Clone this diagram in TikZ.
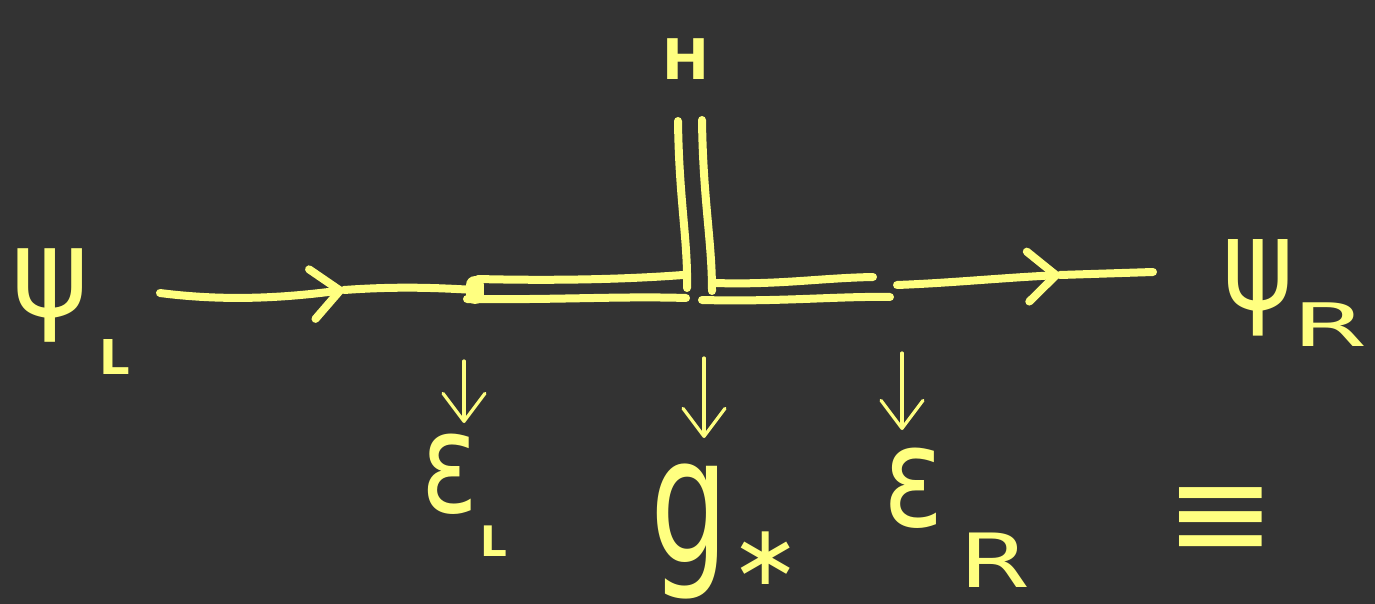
\documentclass[tikz,border=0pt]{standalone}
\usepackage{fontspec}
\setmainfont{DejaVu Sans}
\usetikzlibrary{arrows.meta}
\definecolor{bg}{RGB}{51,51,51}
\definecolor{chalk}{RGB}{255,255,128}
\begin{document}
\begin{tikzpicture}[x=0.5pt,y=-0.5pt,
  wire/.style={draw=chalk,line width=4pt,line cap=round,line join=round},
  fine/.style={draw=chalk,line width=1.6pt,line cap=round,line join=round},
  lbl/.style={text=chalk,inner sep=0pt,anchor=center},
  bigtip/.style={-{Straight Barb[round,length=14pt,width=25pt]}},
  smalltip/.style={-{Straight Barb[round,length=14pt,width=21pt]}}]
\fill[bg] (0,0) rectangle (1375,604);
\useasboundingbox (0,0) rectangle (1375,604);
% labels
\node[lbl,font=\bfseries\fontsize{28}{28}\selectfont] (H) at (686,59) {H};
\node[lbl,font=\fontsize{62}{62}\selectfont] (psiL) at (50,295) {\scalebox{0.95}[1]{ψ}};
\node[lbl,font=\bfseries\fontsize{24}{24}\selectfont] (subL) at (115,357) {L};
\node[lbl,font=\fontsize{64}{64}\selectfont] (psiR) at (1258,288) {\scalebox{0.85}[1]{ψ}};
\node[lbl,font=\fontsize{30}{30}\selectfont] (subR) at (1330,325) {\scalebox{1.8}[1]{R}};
\node[lbl,font=\fontsize{70}{70}\selectfont] (epsL) at (450,474) {\scalebox{0.75}[1]{ε}};
\node[lbl,font=\bfseries\fontsize{21}{21}\selectfont] (epsLsub) at (494,541) {L};
\node[lbl,font=\fontsize{88}{88}\selectfont] (g) at (690,532) {\scalebox{0.7}[1]{g}};
\node[lbl,font=\fontsize{42}{42}\selectfont] (gstar) at (766,558) {∗};
\node[lbl,font=\fontsize{70}{70}\selectfont] (epsR) at (914,488) {\scalebox{0.8}[1]{ε}};
\node[lbl,font=\fontsize{34}{34}\selectfont] (epsRsub) at (995,560) {\scalebox{1.5}[1.1]{R}};
\node[lbl,font=\fontsize{66}{66}\selectfont] (equiv) at (1221,523) {≡};
% coordinates of the wire
\coordinate (wL) at (160,293);
\coordinate (chevL) at (344,290);
\coordinate (blob) at (475,290);
\coordinate (jL) at (687,288);
\coordinate (jR) at (712,291);
\coordinate (wR) at (897,285);
\coordinate (chevR) at (1060,275);
\coordinate (endR) at (1153,272);
\coordinate (vLtop) at (678,121);
\coordinate (vRtop) at (702,120);
\coordinate (aL) at (464,361);
\coordinate (aM) at (704,358);
\coordinate (aR) at (902,353);
% incoming wire
\draw[wire,bigtip] (wL) .. controls (230,302) and (290,297) .. (chevL);
\draw[wire] (chevL) .. controls (400,286) and (440,288) .. (blob);
\draw[chalk,line width=9pt,line cap=round] (475,285) -- (475,295);
% left double line
\draw[wire] (478,279) .. controls (560,281) and (630,279) .. (683,275);
\draw[wire] (467,299) .. controls (560,300) and (620,296) .. (686,298);
% vertical double line to H
\draw[wire] (vLtop) .. controls (679,200) and (688,240) .. (jL);
\draw[wire] (vRtop) .. controls (703,200) and (712,240) .. (jR);
% right double line
\draw[wire] (714,283) .. controls (780,285) and (820,278) .. (873,277);
\draw[wire] (702,300) .. controls (780,302) and (840,296) .. (890,297);
% outgoing wire
\draw[wire,bigtip] (wR) .. controls (950,283) and (1000,278) .. (chevR);
\draw[wire] (chevR) -- (endR);
% small arrows to labels
\draw[fine,smalltip] (aL) -- (464,423);
\draw[fine,smalltip] (aM) -- (704,438);
\draw[fine,smalltip] (aR) -- (902,430);
\end{tikzpicture}
\end{document}
